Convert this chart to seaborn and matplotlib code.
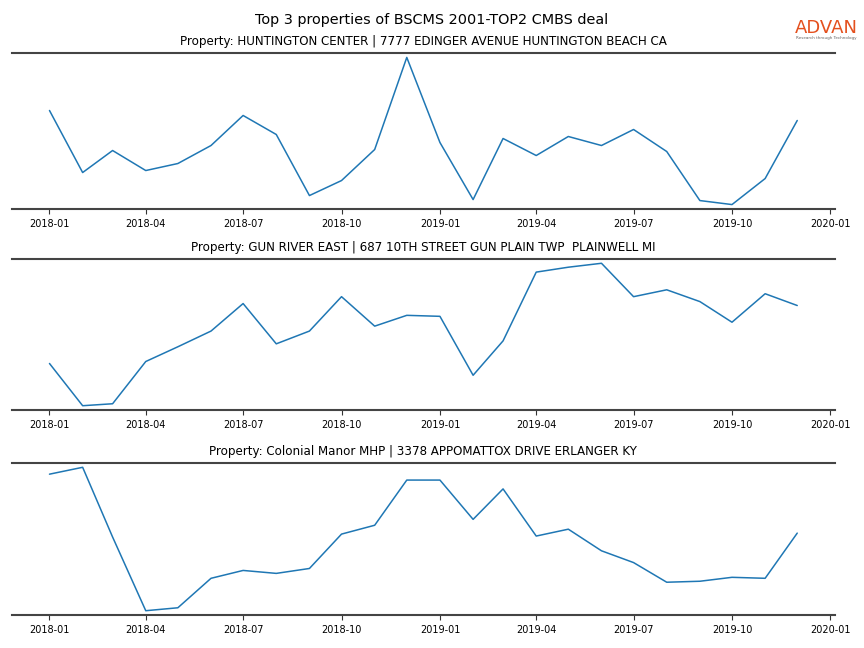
import pandas as pd
import matplotlib.pyplot as plt
import matplotlib.dates as mdates
import seaborn as sns

months = pd.date_range("2018-01-01", "2019-12-01", freq="MS")

huntington = [98, 36, 58, 38, 45, 63, 93, 74, 13, 28, 59, 151,
              66, 9, 70, 53, 72, 63, 79, 57, 8, 4, 30, 88]
gun_river = [45, 2, 4, 47, 62, 78, 106, 65, 78, 113, 83, 94,
             93, 33, 68, 138, 143, 147, 113, 120, 108, 87, 116, 104]
colonial = [141, 148, 77, 2, 5, 35, 43, 40, 45, 80, 89, 135,
            135, 95, 126, 78, 85, 63, 51, 31, 32, 36, 35, 81]

titles = [
    "Property: HUNTINGTON CENTER | 7777 EDINGER AVENUE HUNTINGTON BEACH CA",
    "Property: GUN RIVER EAST | 687 10TH STREET GUN PLAIN TWP  PLAINWELL MI",
    "Property: Colonial Manor MHP | 3378 APPOMATTOX DRIVE ERLANGER KY",
]
series = [huntington, gun_river, colonial]

sns.set_style("white", {"text.color": "black", "xtick.color": "black"})
plt.rcParams['font.family'] = ['DejaVu Sans']

fig, axes = plt.subplots(3, 1, figsize=(8.64, 6.48), dpi=100)
# (bottom, height) of each panel as figure fractions
panel_boxes = [(0.6775, 0.2407), (0.3673, 0.2330), (0.0509, 0.2346)]

for ax, vals, title, (b, h) in zip(axes, series, titles, panel_boxes):
    ax.set_position([0.014, b, 0.952, h])
    df = pd.DataFrame({"month": months, "value": vals})
    sns.lineplot(data=df, x="month", y="value", ax=ax, color="#1f77b4", linewidth=1.1)
    ax.margins(y=0.03)
    ax.set_title(title, fontsize=8.6, pad=6, color="black")
    ax.set_xlabel("")
    ax.set_ylabel("")
    ax.set_yticks([])
    ax.xaxis.set_major_locator(mdates.MonthLocator(bymonth=[1, 4, 7, 10]))
    ax.xaxis.set_major_formatter(mdates.DateFormatter("%Y-%m"))
    ax.tick_params(axis="x", labelsize=7, length=3.5, width=0.8, direction="out",
                   bottom=True, color="#333333", labelcolor="black")
    for side in ["left", "right"]:
        ax.spines[side].set_visible(False)
    for side in ["top", "bottom"]:
        ax.spines[side].set_color("#444444")
        ax.spines[side].set_linewidth(1.5)

fig.suptitle("Top 3 properties of BSCMS 2001-TOP2 CMBS deal", fontsize=10.4, y=0.98,
             color="black")

# logo
fig.text(0.956, 0.957, "ADVAN", color="#e4501e", fontsize=13, ha="center", va="center")
fig.text(0.956, 0.941, "Research through Technology", color="#666666", fontsize=3,
         ha="center", va="center")

fig.savefig("out.png", dpi=100)
